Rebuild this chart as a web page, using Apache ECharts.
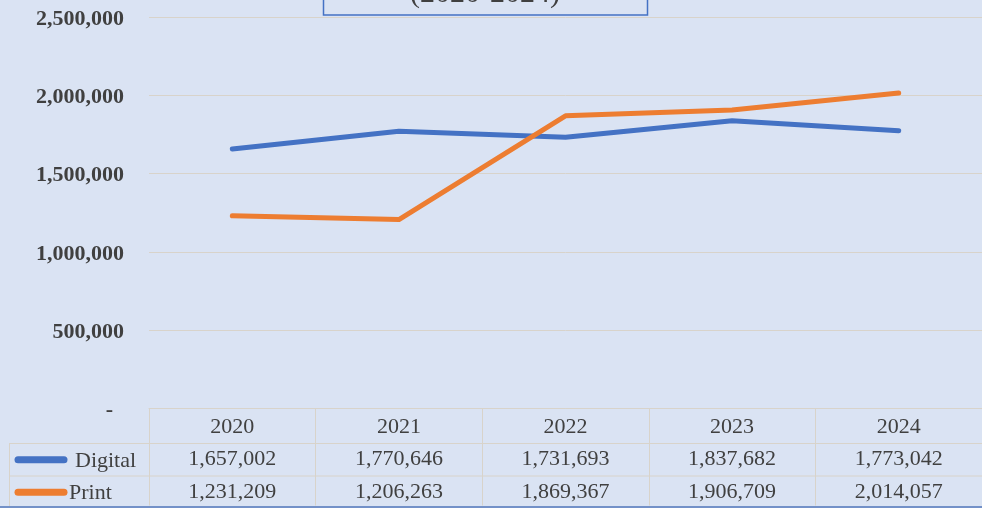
<!DOCTYPE html>
<html>
<head>
<meta charset="utf-8">
<script src="https://cdn.jsdelivr.net/npm/echarts@6/dist/echarts.min.js"></script>
<style>
  html, body { margin: 0; padding: 0; background: #dae3f3; }
  #chart { width: 982px; height: 508px; }
</style>
</head>
<body>
<div id="chart"></div>
<script>
// data
const years = ['2020', '2021', '2022', '2023', '2024'];
const digital = [1657002, 1770646, 1731693, 1837682, 1773042];
const print = [1231209, 1206263, 1869367, 1906709, 2014057];
const seriesNames = ['Digital', 'Print'];
const colors = ['#4472c4', '#ed7d31'];

const fmt = v => v.toLocaleString('en-US');
const font = 'Liberation Serif';
const gridLine = '#d8d3ca';

const chart = echarts.init(document.getElementById('chart'));

// table geometry (rows under the plot)
const plotLeft = 149, plotTop = 17, plotW = 838, plotH = 394;
const rowH = 32.5;
const tableTop = plotTop + plotH;

const option = {
  backgroundColor: '#dae3f3',
  animation: false,
  grid: { left: plotLeft, top: plotTop, width: plotW, height: plotH },
  xAxis: {
    type: 'category',
    data: years,
    boundaryGap: true,
    axisLine: { show: true, lineStyle: { color: gridLine, width: 1 } },
    axisTick: { show: true, interval: 0, length: 97, lineStyle: { color: gridLine } },
    axisLabel: {
      interval: 0,
      margin: 0,
      fontFamily: font,
      fontSize: 22,
      color: '#404040',
      lineHeight: rowH,
      padding: [2, 0, 0, 0],
      formatter: (v, i) => v + '\n' + fmt(digital[i]) + '\n' + fmt(print[i])
    }
  },
  yAxis: {
    type: 'value',
    min: 0,
    max: 2500000,
    interval: 500000,
    axisLine: { show: false },
    axisTick: { show: false },
    splitLine: { lineStyle: { color: gridLine, width: 1 } },
    axisLabel: {
      margin: 25,
      fontFamily: font,
      fontSize: 22,
      fontWeight: 'bold',
      color: '#404040',
      padding: [4, 0, 0, 0],
      formatter: v => v === 0 ? '{d|-}' : fmt(v),
      rich: { d: { fontFamily: font, fontSize: 22, fontWeight: 'bold', color: '#404040', padding: [0, 11, 0, 0] } }
    }
  },
  series: [
    {
      name: seriesNames[0], type: 'line', data: digital, showSymbol: false,
      lineStyle: { color: colors[0], width: 5, cap: 'round', join: 'round' }
    },
    {
      name: seriesNames[1], type: 'line', data: print, showSymbol: false,
      lineStyle: { color: colors[1], width: 5, cap: 'round', join: 'round' }
    }
  ],
  graphic: [
    // title box, mostly cut off at the top
    {
      type: 'rect', shape: { x: 323.5, y: -45, width: 324, height: 60 },
      style: { fill: 'none', stroke: '#4472c4', lineWidth: 1.5 }
    },
    {
      type: 'text', x: 485, y: 9,
      style: { text: '(2020-2024)', fontFamily: font, fontSize: 30, fill: '#404040', align: 'center', verticalAlign: 'bottom' }
    },
    // table row lines
    { type: 'line', shape: { x1: 9, y1: tableTop + rowH, x2: 990, y2: tableTop + rowH }, style: { stroke: gridLine, lineWidth: 1 } },
    { type: 'line', shape: { x1: 9, y1: tableTop + 2 * rowH, x2: 990, y2: tableTop + 2 * rowH }, style: { stroke: gridLine, lineWidth: 1 } },
    { type: 'line', shape: { x1: 9.5, y1: tableTop + rowH, x2: 9.5, y2: 508 }, style: { stroke: gridLine, lineWidth: 1 } },
    // legend keys + row headers
    { type: 'line', shape: { x1: 18, y1: tableTop + 1.5 * rowH, x2: 64, y2: tableTop + 1.5 * rowH }, style: { stroke: colors[0], lineWidth: 7, lineCap: 'round' } },
    { type: 'line', shape: { x1: 18, y1: tableTop + 2.5 * rowH, x2: 64, y2: tableTop + 2.5 * rowH }, style: { stroke: colors[1], lineWidth: 7, lineCap: 'round' } },
    {
      type: 'text', x: 75, y: tableTop + 1.5 * rowH + 1,
      style: { text: seriesNames[0], fontFamily: font, fontSize: 22, fill: '#404040', verticalAlign: 'middle' }
    },
    {
      type: 'text', x: 69, y: tableTop + 2.5 * rowH + 1,
      style: { text: seriesNames[1], fontFamily: font, fontSize: 22, fill: '#404040', verticalAlign: 'middle' }
    },
    // chart border at the bottom
    { type: 'line', shape: { x1: 0, y1: 507, x2: 982, y2: 507 }, style: { stroke: '#7391c8', lineWidth: 2 } }
  ]
};

chart.setOption(option);
</script>
</body>
</html>
